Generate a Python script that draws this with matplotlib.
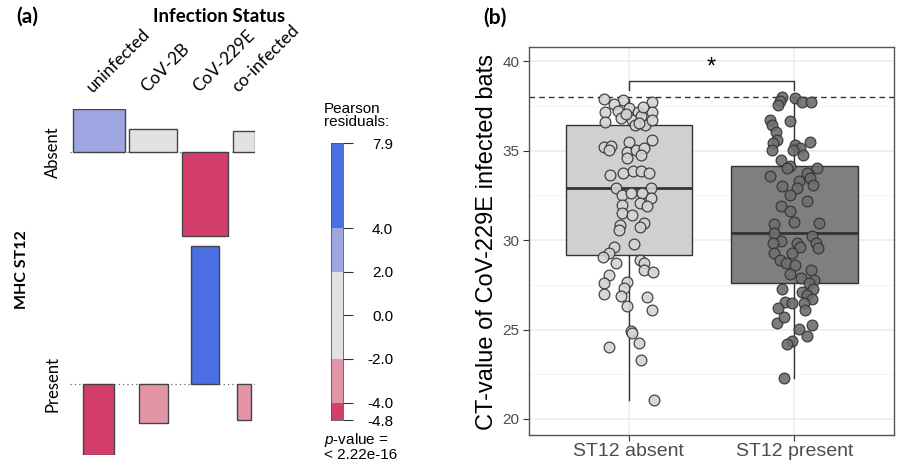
import numpy as np
import matplotlib
matplotlib.use('Agg')
import matplotlib.pyplot as plt

plt.rcParams['font.family'] = ['Liberation Sans', 'DejaVu Sans']
plt.rcParams['mathtext.fontset'] = 'custom'
plt.rcParams['mathtext.rm'] = 'Liberation Sans'
plt.rcParams['mathtext.it'] = 'Liberation Sans:italic'

W, H = 897, 466

# panel (a): association plot, MHC ST12 x infection status
infection = ['uninfected', 'CoV-2B', 'CoV-229E', 'co-infected']
st12_rows = ['Absent', 'Present']
expected_absent = [300, 256, 232, 57]
expected_present = [107, 98, 85, 21]
resid_absent = [2.46, 1.31, -4.8, 1.2]
resid_present = [-4.06, -2.2, 7.9, -2.05]
legend_ticks = [-4.8, -4.0, -2.0, 0.0, 2.0, 4.0, 7.9]
shade_breaks = [-4.8, -4.0, -2.0, 2.0, 4.0, 7.9]
shade_colors = ['#D33F6A', '#E495A5', '#E2E2E2', '#9EA6E2', '#4A6FE3']

# panel (b): CT values of CoV-229E infected bats
groups = ['ST12 absent', 'ST12 present']
absent_ct = [37.90, 37.84, 37.60, 37.70, 37.19, 37.37, 37.19, 37.22, 37.15, 36.63,
             36.85, 36.72, 36.44, 36.44, 36.72, 37.05, 36.95, 37.45, 36.55,
             35.20, 35.29, 35.05, 35.47, 34.95, 35.05, 35.14, 35.60, 34.77, 34.58,
             33.65, 33.74, 33.84, 33.84, 33.74, 32.94, 32.94, 32.53, 32.63, 32.63,
             32.35, 31.97, 32.07, 31.90, 31.49, 31.40, 30.93, 30.74, 30.84, 30.56,
             29.76, 29.63, 29.30, 29.03, 28.73, 28.88, 28.73, 28.32, 28.23, 28.04,
             27.61, 27.67, 27.30, 26.98, 26.87, 26.83, 26.31, 26.09, 24.93, 24.82,
             24.04, 24.26, 23.30, 21.05]
absent_dx = [-0.149, -0.032, -0.089, 0.143, -0.143, 0.002, 0.056, -0.064, 0.139, -0.143,
             -0.048, 0.022, 0.038, 0.102, 0.143, -0.014, 0.075, 0.090, 0.060,
             -0.149, -0.104, -0.118, 0.002, -0.008, 0.042, 0.092, 0.143, 0.078, -0.008,
             -0.113, -0.032, 0.028, 0.078, 0.122, -0.078, 0.133, -0.038, 0.012, 0.082,
             0.133, -0.038, 0.072, 0.110, -0.038, 0.022, 0.092, 0.072, -0.052, -0.058,
             0.032, -0.088, -0.118, -0.152, -0.078, 0.072, 0.096, 0.092, 0.149, -0.118,
             -0.145, -0.008, -0.028, -0.149, -0.044, 0.112, -0.012, 0.143, 0.012, 0.022,
             -0.118, 0.062, 0.078, 0.153]
present_ct = [38.03, 37.78, 37.97, 37.75, 37.71, 37.53, 36.67, 36.72, 36.44, 36.07,
              35.60, 35.42, 35.51, 35.32, 35.14, 35.05, 35.05, 34.77, 34.49, 34.17,
              34.02, 34.02, 33.74, 33.46, 33.56, 33.09, 33.28, 33.00, 32.94, 32.53,
              32.16, 31.88, 31.60, 31.02, 30.97, 30.89, 30.41, 30.22, 29.96, 29.85,
              29.82, 29.85, 29.63, 29.54, 29.29, 29.29, 28.88, 28.70, 28.60, 28.10,
              28.32, 27.86, 27.77, 27.61, 27.25, 27.11, 27.25, 26.93, 26.69, 26.55,
              26.46, 26.46, 26.18, 26.09, 25.35, 25.68, 25.01, 25.25, 24.64, 24.37,
              24.19, 22.27]
present_dx = [-0.074, -0.088, 0.006, 0.046, 0.102, -0.100, -0.024, -0.145, -0.134, -0.114,
              -0.104, -0.128, 0.092, 0.006, 0.036, -0.008, -0.134, 0.052, -0.084, -0.024,
              -0.044, 0.133, 0.076, 0.096, -0.145, 0.113, 0.026, -0.074, 0.016, -0.024,
              0.076, -0.084, -0.028, -0.004, 0.146, -0.125, -0.125, 0.107, -0.084, -0.128,
              0.016, 0.127, 0.036, 0.143, -0.014, -0.125, -0.088, -0.048, 0.006, -0.024,
              0.100, 0.042, 0.120, 0.086, -0.074, 0.046, 0.113, 0.076, 0.107, -0.054,
              -0.014, 0.056, -0.098, 0.062, -0.104, -0.064, 0.026, 0.107, 0.076, -0.014,
              -0.044, -0.064]
box_q1 = [29.15, 27.58]
box_med = [32.9, 30.4]
box_q3 = [36.45, 34.15]
box_lo = [21.05, 22.27]
box_hi = [37.9, 38.03]
ct_cutoff = 38.0
bracket_y = 38.88

LATO = ['Lato', 'DejaVu Sans']


def shade(r):
    for lo, hi, c in zip(shade_breaks[:-1], shade_breaks[1:], shade_colors):
        if lo <= r <= hi:
            return c
    return shade_colors[-1] if r > 0 else shade_colors[0]


fig = plt.figure(figsize=(W / 100, H / 100), dpi=100)

# ---------------- panel (a) ----------------
gap_x, gap_y = 1.6, 0.57
col_w = np.sqrt(np.maximum(expected_absent, expected_present))
col_left = np.concatenate([[0], np.cumsum(col_w + gap_x)[:-1]])
col_c = col_left + col_w / 2
total_w = col_left[-1] + col_w[-1]

base_abs = -max(resid_absent)
bottom_abs = base_abs + min(resid_absent)
base_pres = bottom_abs - gap_y - max(resid_present)
bottom_pres = base_pres + min(resid_present)

ax_a = fig.add_axes([69.7 / W, 1 - 455.3 / H, (total_w + 1) * 3 / W, -bottom_pres * 17.5 / H])
ax_a.set_xlim(-1, total_w)
ax_a.set_ylim(bottom_pres, 0)
ax_a.axis('off')

for base, resid, exp in [(base_abs, resid_absent, expected_absent),
                         (base_pres, resid_present, expected_present)]:
    ax_a.axhline(base, color='#666666', lw=0.9, ls=(0, (1, 2.5)), zorder=1)
    ax_a.bar(col_c, resid, width=np.sqrt(exp), bottom=base,
             color=[shade(r) for r in resid], edgecolor='#444444', lw=1.0, zorder=2)

for c, lab in zip(col_c, infection):
    ax_a.annotate(lab, xy=(c, 0), xytext=(-4, 14), textcoords='offset pixels',
                  rotation=45, rotation_mode='anchor', ha='left', va='bottom',
                  fontsize=12.5, family=LATO)
for base, lab in zip([base_abs, base_pres], st12_rows):
    ax_a.annotate(lab, xy=(0, base), xycoords=('axes fraction', 'data'),
                  xytext=(-17, 0), textcoords='offset pixels', rotation=90,
                  ha='center', va='center', fontsize=12, family=LATO)

fig.text(219 / W, 1 - 16 / H, 'Infection Status', ha='center', va='center',
         fontsize=13.5, fontweight='bold', family=LATO)
fig.text(22 / W, 1 - 270 / H, 'MHC ST12', ha='center', va='center', rotation=90,
         fontsize=11.5, fontweight='bold', family=LATO)
fig.text(27 / W, 1 - 17 / H, '(a)', ha='center', va='center',
         fontsize=15, fontweight='bold', family=LATO)

# legend (shading scale)
ax_l = fig.add_axes([331 / W, 1 - 420 / H, 12.3 / W, 276.7 / H])
lows = shade_breaks[:-1]
highs = shade_breaks[1:]
ax_l.bar(0, np.subtract(highs, lows), bottom=lows, width=1, color=shade_colors, lw=0)
ax_l.set_xlim(-0.5, 0.5)
ax_l.set_ylim(shade_breaks[0], shade_breaks[-1])
ax_l.set_xticks([])
ax_l.yaxis.tick_right()
ax_l.set_yticks(legend_ticks)
ax_l.set_yticklabels(['%.1f' % t for t in legend_ticks])
ax_l.tick_params(axis='y', length=7, width=0.8, color='#333333', pad=28.8, labelsize=11)
for lab in ax_l.get_yticklabels():
    lab.set_ha('right')
for s in ax_l.spines.values():
    s.set_color('#555555')
    s.set_linewidth(0.6)
fig.text(324 / W, 1 - 102 / H, 'Pearson\nresiduals:', ha='left', va='top',
         fontsize=11, linespacing=0.95)
fig.text(324 / W, 1 - 431 / H, '$p$-value =\n< 2.22e-16', ha='left', va='top',
         fontsize=11, linespacing=0.95)

# ---------------- panel (b) ----------------
ax_b = fig.add_axes([529 / W, 1 - 435 / H, 365 / W, 388 / H])
pos = [1, 2]
stats = [dict(med=m, q1=a, q3=b, whislo=lo, whishi=hi, fliers=[])
         for m, a, b, lo, hi in zip(box_med, box_q1, box_q3, box_lo, box_hi)]
bp = ax_b.bxp(stats, positions=pos, widths=0.76, patch_artist=True, showcaps=False,
              boxprops=dict(edgecolor='#333333', lw=1.0),
              whiskerprops=dict(color='#333333', lw=1.0),
              medianprops=dict(color='#333333', lw=2.0), zorder=2)
for patch, fc in zip(bp['boxes'], ['#D0D0D0', '#7F7F7F']):
    patch.set_facecolor(fc)

ax_b.axhline(ct_cutoff, color='#333333', lw=1.0, ls=(0, (4, 3)), zorder=1.5)

ax_b.scatter(np.add(pos[0], absent_dx), absent_ct, s=60, c='#D3D3D3',
             edgecolors='#333333', linewidths=0.9, alpha=0.9, zorder=3)
ax_b.scatter(np.add(pos[1], present_dx), present_ct, s=60, c='#6E6E6E',
             edgecolors='#333333', linewidths=0.9, alpha=0.9, zorder=3)

ax_b.plot([pos[0], pos[0], pos[1], pos[1]],
          [bracket_y - 0.5, bracket_y, bracket_y, bracket_y - 0.5],
          color='#333333', lw=1.0, zorder=3)
ax_b.text(1.5, bracket_y + 0.75, '*', ha='center', va='center', fontsize=17)

ax_b.set_xlim(0.4, 2.6)
ax_b.set_ylim(19.1, 40.8)
ax_b.set_xticks(pos)
ax_b.set_xticklabels(groups)
ax_b.set_yticks([20, 25, 30, 35, 40])
ax_b.set_yticks([22.5, 27.5, 32.5, 37.5], minor=True)
ax_b.grid(which='major', color='#EBEBEB', lw=1.1, zorder=0)
ax_b.grid(which='minor', axis='y', color='#F2F2F2', lw=0.6, zorder=0)
ax_b.set_axisbelow(True)
ax_b.tick_params(axis='x', which='major', length=4, color='#333333', labelsize=14,
                 labelcolor='#4D4D4D', pad=2)
ax_b.tick_params(axis='y', which='major', length=4, color='#333333', labelsize=11,
                 labelcolor='#4D4D4D', pad=3)
ax_b.tick_params(which='minor', length=0)
for s in ax_b.spines.values():
    s.set_color('#555555')
    s.set_linewidth(1.0)

fig.text(487 / W, 1 - 242 / H, 'CT-value of CoV-229E infected bats', rotation=90,
         ha='center', va='center', fontsize=17)
fig.text(495 / W, 1 - 18 / H, '(b)', ha='center', va='center',
         fontsize=15, fontweight='bold', family=LATO)

fig.savefig('out.png', dpi=100)
